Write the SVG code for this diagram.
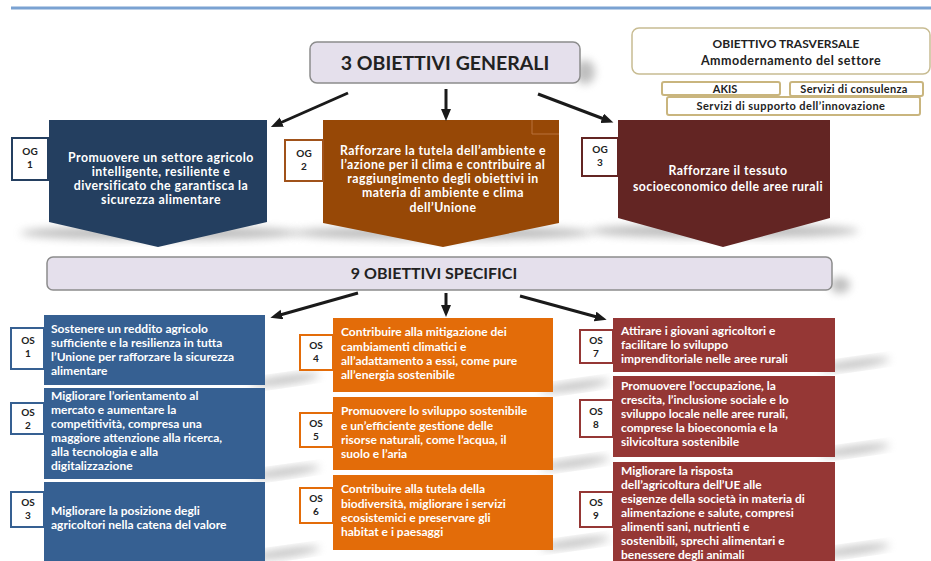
<svg xmlns="http://www.w3.org/2000/svg" width="931" height="561" viewBox="0 0 931 561">
<defs>
<style>
.t{font-family:Lato,"Liberation Sans",sans-serif;font-weight:bold;}
.w{fill:#ffffff;font-size:12px;}
.wc{fill:#ffffff;font-size:12.3px;text-anchor:middle;letter-spacing:0.45px;}
.lbl{fill:#222222;font-size:10px;text-anchor:middle;}
.hdr{fill:#222222;text-anchor:middle;}
.conn{stroke:#1a1a1a;stroke-width:3;fill:none;marker-end:url(#ah);}
.sh{fill:#8a8a8a;opacity:0.55;filter:url(#blur);}
</style>
<filter id="blur" x="-50%" y="-50%" width="200%" height="200%"><feGaussianBlur stdDeviation="4"/></filter>
<marker id="ah" markerUnits="userSpaceOnUse" markerWidth="13" markerHeight="11" refX="2" refY="5" orient="auto"><path d="M0,0 L12,5 L0,10 z" fill="#1a1a1a"/></marker>
</defs>
<rect x="0" y="0" width="931" height="561" fill="#ffffff"/>
<line x1="11" y1="8" x2="931" y2="8" stroke="#7aa2d2" stroke-width="3"/>

<g id="shadows">
<ellipse class="sh" cx="160" cy="233" rx="140" ry="7"/>
<ellipse class="sh" cx="443" cy="233" rx="150" ry="7"/>
<ellipse class="sh" cx="724" cy="231" rx="135" ry="7"/>
<ellipse class="sh" cx="585" cy="72" rx="10" ry="12"/>
<ellipse class="sh" cx="840" cy="285" rx="10" ry="8"/>
<ellipse class="sh" cx="285" cy="380" rx="35" ry="4" transform="rotate(-8 285 380)"/>
<ellipse class="sh" cx="285" cy="472" rx="35" ry="4" transform="rotate(-8 285 472)"/>
<ellipse class="sh" cx="285" cy="553" rx="35" ry="4" transform="rotate(-8 285 553)"/>
<ellipse class="sh" cx="575" cy="386" rx="35" ry="4" transform="rotate(-8 575 386)"/>
<ellipse class="sh" cx="575" cy="463" rx="35" ry="4" transform="rotate(-8 575 463)"/>
<ellipse class="sh" cx="575" cy="543" rx="35" ry="4" transform="rotate(-8 575 543)"/>
<ellipse class="sh" cx="855" cy="364" rx="35" ry="4" transform="rotate(-8 855 364)"/>
<ellipse class="sh" cx="855" cy="450" rx="35" ry="4" transform="rotate(-8 855 450)"/>
<ellipse class="sh" cx="855" cy="550" rx="35" ry="4" transform="rotate(-8 855 550)"/>
</g>

<g id="hdr-generali">
<rect x="310" y="42" width="270" height="41" rx="7" fill="#e5e0ec" stroke="#8c8c8c" stroke-width="1.5"/>
<text class="t hdr" x="445" y="70" font-size="19.5">3 OBIETTIVI GENERALI</text>
</g>

<g id="trasversale">
<rect x="632" y="28" width="298" height="46" rx="7" fill="#ffffff" stroke="#c8bc92" stroke-width="1.5"/>
<text class="t hdr" x="786" y="48" font-size="12">OBIETTIVO TRASVERSALE</text>
<text class="t hdr" x="791" y="65" font-size="12.5" letter-spacing="0.5">Ammodernamento del settore</text>
</g>
<g id="akis">
<rect x="662" y="82" width="118" height="13" rx="2" fill="#ffffff" stroke="#c9b57e" stroke-width="2"/>
<text class="t hdr" x="725" y="93" font-size="11">AKIS</text>
</g>
<g id="consulenza">
<rect x="790" y="82" width="133" height="14" rx="2" fill="#ffffff" stroke="#c9b57e" stroke-width="2"/>
<text class="t hdr" x="854" y="93" font-size="11" letter-spacing="0.3">Servizi di consulenza</text>
</g>
<g id="supporto">
<rect x="667" y="97" width="253" height="18" rx="2" fill="#ffffff" stroke="#c9b57e" stroke-width="2"/>
<text class="t hdr" x="791" y="110" font-size="11" letter-spacing="0.45">Servizi di supporto dell’innovazione</text>
</g>

<g id="og1">
<polygon points="49,120 267,120 267,222 158,247 49,222" fill="#243f60"/>
<rect x="12" y="138" width="36" height="42" fill="#ffffff" stroke="#243f60" stroke-width="2"/>
<text class="t lbl" x="30" y="155">OG</text>
<text class="t lbl" x="30" y="168">1</text>
<text class="t wc" x="161" y="162">Promuovere un settore agricolo</text>
<text class="t wc" x="161" y="176">intelligente, resiliente e</text>
<text class="t wc" x="161" y="190">diversificato che garantisca la</text>
<text class="t wc" x="161" y="204">sicurezza alimentare</text>
</g>

<g id="og2">
<polygon points="323,120 559,120 559,223 443,247 323,223" fill="#974806"/>
<path d="M532,120 V134 H559" fill="none" stroke="#b8703a" stroke-width="1"/>
<rect x="285" y="140" width="38" height="41" fill="#ffffff" stroke="#a0521a" stroke-width="2"/>
<text class="t lbl" x="304" y="157">OG</text>
<text class="t lbl" x="304" y="170">2</text>
<text class="t wc" x="443" y="155">Rafforzare la tutela dell’ambiente e</text>
<text class="t wc" x="443" y="169">l’azione per il clima e contribuire al</text>
<text class="t wc" x="443" y="183">raggiungimento degli obiettivi in</text>
<text class="t wc" x="443" y="197">materia di ambiente e clima</text>
<text class="t wc" x="443" y="212">dell’Unione</text>
</g>

<g id="og3">
<polygon points="618,120 830,120 830,218 723,247 618,218" fill="#632523"/>
<rect x="582" y="138" width="36" height="38" fill="#ffffff" stroke="#632523" stroke-width="2"/>
<text class="t lbl" x="600" y="153">OG</text>
<text class="t lbl" x="600" y="166">3</text>
<text class="t wc" x="728" y="175">Rafforzare il tessuto</text>
<text class="t wc" x="728" y="191">socioeconomico delle aree rurali</text>
</g>

<g id="hdr-specifici">
<rect x="47" y="257" width="785" height="33" rx="6" fill="#e5e0ec" stroke="#8c8c8c" stroke-width="1.5"/>
<text class="t hdr" x="434" y="279" font-size="16">9 OBIETTIVI SPECIFICI</text>
</g>

<g id="connectors">
<line class="conn" x1="348" y1="93" x2="280" y2="123"/>
<line class="conn" x1="446" y1="89" x2="446" y2="111"/>
<line class="conn" x1="538" y1="94" x2="604" y2="119"/>
<line class="conn" x1="358" y1="293" x2="280" y2="315"/>
<line class="conn" x1="446" y1="293" x2="446" y2="307"/>
<line class="conn" x1="520" y1="296" x2="597" y2="317"/>
</g>

<g id="os1">
<rect x="44" y="315" width="221" height="70" fill="#366092"/>
<rect x="11" y="328" width="33" height="41" fill="#ffffff" stroke="#366092" stroke-width="2"/>
<text class="t lbl" x="28" y="344">OS</text>
<text class="t lbl" x="28" y="357">1</text>
<text class="t w" x="51" y="333">Sostenere un reddito agricolo</text>
<text class="t w" x="51" y="347">sufficiente e la resilienza in tutta</text>
<text class="t w" x="51" y="361">l’Unione per rafforzare la sicurezza</text>
<text class="t w" x="51" y="375">alimentare</text>
</g>
<g id="os2">
<rect x="44" y="388" width="221" height="91" fill="#366092"/>
<rect x="11" y="403" width="33" height="31" fill="#ffffff" stroke="#366092" stroke-width="2"/>
<text class="t lbl" x="28" y="416">OS</text>
<text class="t lbl" x="28" y="429">2</text>
<text class="t w" x="51" y="400">Migliorare l’orientamento al</text>
<text class="t w" x="51" y="414">mercato e aumentare la</text>
<text class="t w" x="51" y="428">competitività, compresa una</text>
<text class="t w" x="51" y="442">maggiore attenzione alla ricerca,</text>
<text class="t w" x="51" y="456">alla tecnologia e alla</text>
<text class="t w" x="51" y="470">digitalizzazione</text>
</g>
<g id="os3">
<rect x="44" y="482" width="221" height="79" fill="#366092"/>
<rect x="11" y="492" width="33" height="35" fill="#ffffff" stroke="#366092" stroke-width="2"/>
<text class="t lbl" x="28" y="506">OS</text>
<text class="t lbl" x="28" y="519">3</text>
<text class="t w" x="51" y="515">Migliorare la posizione degli</text>
<text class="t w" x="51" y="529">agricoltori nella catena del valore</text>
</g>

<g id="os4">
<rect x="333" y="318" width="220" height="74" fill="#e36c09"/>
<rect x="300" y="335" width="33" height="35" fill="#ffffff" stroke="#e36c09" stroke-width="2"/>
<text class="t lbl" x="316" y="349">OS</text>
<text class="t lbl" x="316" y="362">4</text>
<text class="t w" x="341" y="336">Contribuire alla mitigazione dei</text>
<text class="t w" x="341" y="351">cambiamenti climatici e</text>
<text class="t w" x="341" y="365">all’adattamento a essi, come pure</text>
<text class="t w" x="341" y="379">all’energia sostenibile</text>
</g>
<g id="os5">
<rect x="333" y="397" width="220" height="73" fill="#e36c09"/>
<rect x="300" y="413" width="33" height="34" fill="#ffffff" stroke="#e36c09" stroke-width="2"/>
<text class="t lbl" x="316" y="427">OS</text>
<text class="t lbl" x="316" y="440">5</text>
<text class="t w" x="341" y="415">Promuovere lo sviluppo sostenibile</text>
<text class="t w" x="341" y="430">e un’efficiente gestione delle</text>
<text class="t w" x="341" y="444">risorse naturali, come l’acqua, il</text>
<text class="t w" x="341" y="458">suolo e l’aria</text>
</g>
<g id="os6">
<rect x="333" y="475" width="220" height="75" fill="#e36c09"/>
<rect x="300" y="488" width="33" height="35" fill="#ffffff" stroke="#e36c09" stroke-width="2"/>
<text class="t lbl" x="316" y="502">OS</text>
<text class="t lbl" x="316" y="515">6</text>
<text class="t w" x="341" y="493">Contribuire alla tutela della</text>
<text class="t w" x="341" y="508">biodiversità, migliorare i servizi</text>
<text class="t w" x="341" y="522">ecosistemici e preservare gli</text>
<text class="t w" x="341" y="536">habitat e i paesaggi</text>
</g>

<g id="os7">
<rect x="613" y="318" width="222" height="54" fill="#953735"/>
<rect x="580" y="330" width="33" height="33" fill="#ffffff" stroke="#953735" stroke-width="2"/>
<text class="t lbl" x="596" y="344">OS</text>
<text class="t lbl" x="596" y="357">7</text>
<text class="t w" x="621" y="335">Attirare i giovani agricoltori e</text>
<text class="t w" x="621" y="349">facilitare lo sviluppo</text>
<text class="t w" x="621" y="363">imprenditoriale nelle aree rurali</text>
</g>
<g id="os8">
<rect x="613" y="376" width="222" height="81" fill="#953735"/>
<rect x="580" y="400" width="33" height="37" fill="#ffffff" stroke="#953735" stroke-width="2"/>
<text class="t lbl" x="596" y="415">OS</text>
<text class="t lbl" x="596" y="428">8</text>
<text class="t w" x="621" y="390">Promuovere l’occupazione, la</text>
<text class="t w" x="621" y="404">crescita, l’inclusione sociale e lo</text>
<text class="t w" x="621" y="418">sviluppo locale nelle aree rurali,</text>
<text class="t w" x="621" y="432">comprese la bioeconomia e la</text>
<text class="t w" x="621" y="446">silvicoltura sostenibile</text>
</g>
<g id="os9">
<rect x="613" y="462" width="222" height="99" fill="#953735"/>
<rect x="580" y="492" width="33" height="35" fill="#ffffff" stroke="#953735" stroke-width="2"/>
<text class="t lbl" x="596" y="506">OS</text>
<text class="t lbl" x="596" y="519">9</text>
<text class="t w" x="621" y="475">Migliorare la risposta</text>
<text class="t w" x="621" y="489">dell’agricoltura dell’UE alle</text>
<text class="t w" x="621" y="503">esigenze della società in materia di</text>
<text class="t w" x="621" y="517">alimentazione e salute, compresi</text>
<text class="t w" x="621" y="531">alimenti sani, nutrienti e</text>
<text class="t w" x="621" y="545">sostenibili, sprechi alimentari e</text>
<text class="t w" x="621" y="559">benessere degli animali</text>
</g>
</svg>
